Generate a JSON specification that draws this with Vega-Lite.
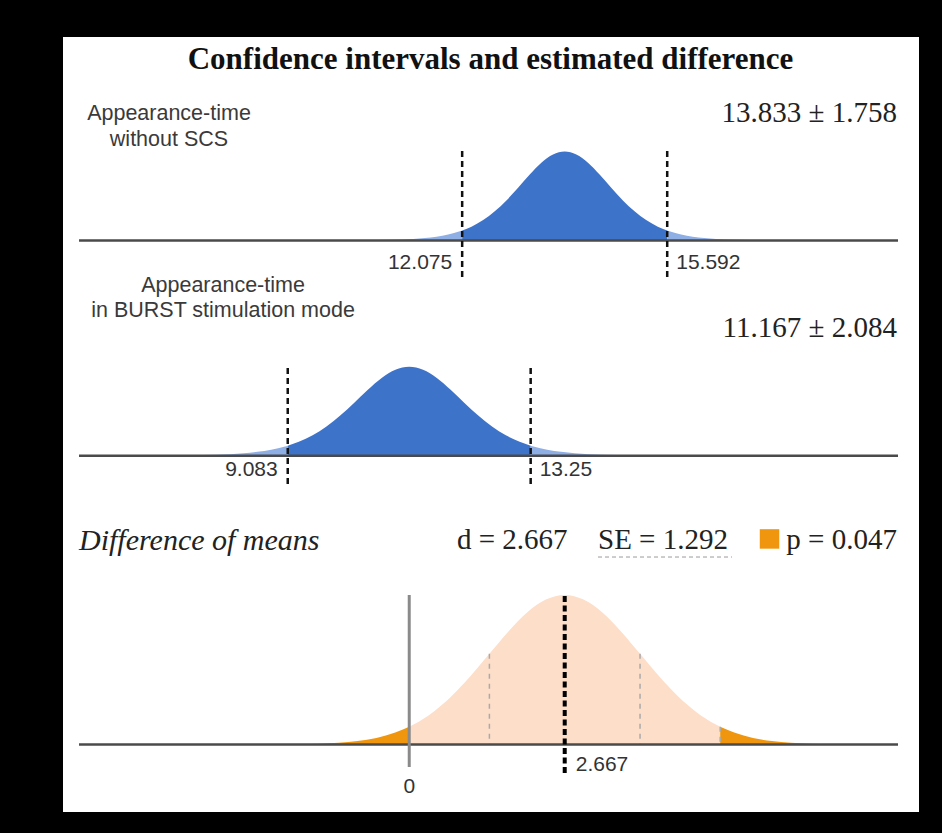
{
  "$schema": "https://vega.github.io/schema/vega-lite/v6.json",
  "background": "#000000",
  "padding": {"left": 63, "top": 37, "right": 23, "bottom": 21},
  "spacing": 0,
  "bounds": "flush",
  "config": {
    "view": {"fill": "#ffffff", "stroke": null},
    "axis": {"disable": true},
    "text": {"font": "Liberation Sans"}
  },
  "datasets": {
    "g1": [
      {"x": 10.237, "f": 0.0019}, {"x": 10.637, "f": 0.0046}, {"x": 11.036, "f": 0.0112}, {"x": 11.436, "f": 0.0277},
      {"x": 11.636, "f": 0.0433}, {"x": 11.835, "f": 0.0672}, {"x": 12.035, "f": 0.1032}, {"x": 12.075, "f": 0.112},
      {"x": 12.235, "f": 0.1555}, {"x": 12.435, "f": 0.2291}, {"x": 12.634, "f": 0.3274}, {"x": 12.834, "f": 0.4507},
      {"x": 13.034, "f": 0.5933}, {"x": 13.234, "f": 0.7414}, {"x": 13.433, "f": 0.8739}, {"x": 13.633, "f": 0.9666},
      {"x": 13.833, "f": 1}, {"x": 14.033, "f": 0.9666}, {"x": 14.233, "f": 0.8739}, {"x": 14.432, "f": 0.7414},
      {"x": 14.632, "f": 0.5933}, {"x": 14.832, "f": 0.4507}, {"x": 15.032, "f": 0.3274}, {"x": 15.231, "f": 0.2291},
      {"x": 15.431, "f": 0.1555}, {"x": 15.592, "f": 0.112}, {"x": 15.631, "f": 0.1032}, {"x": 15.831, "f": 0.0672},
      {"x": 16.03, "f": 0.0433}, {"x": 16.23, "f": 0.0277}, {"x": 16.63, "f": 0.0112}, {"x": 17.029, "f": 0.0046},
      {"x": 17.429, "f": 0.0019}
    ],
    "g2": [
      {"x": 6.906, "f": 0.0019}, {"x": 7.38, "f": 0.0046}, {"x": 7.853, "f": 0.0112}, {"x": 8.327, "f": 0.0277},
      {"x": 8.563, "f": 0.0433}, {"x": 8.8, "f": 0.0672}, {"x": 9.037, "f": 0.1032}, {"x": 9.083, "f": 0.112},
      {"x": 9.273, "f": 0.1555}, {"x": 9.51, "f": 0.2291}, {"x": 9.747, "f": 0.3274}, {"x": 9.983, "f": 0.4507},
      {"x": 10.22, "f": 0.5933}, {"x": 10.457, "f": 0.7414}, {"x": 10.694, "f": 0.8739}, {"x": 10.93, "f": 0.9666},
      {"x": 11.167, "f": 1}, {"x": 11.404, "f": 0.9666}, {"x": 11.64, "f": 0.8739}, {"x": 11.877, "f": 0.7414},
      {"x": 12.114, "f": 0.5933}, {"x": 12.351, "f": 0.4507}, {"x": 12.587, "f": 0.3274}, {"x": 12.824, "f": 0.2291},
      {"x": 13.061, "f": 0.1555}, {"x": 13.25, "f": 0.112}, {"x": 13.297, "f": 0.1032}, {"x": 13.534, "f": 0.0672},
      {"x": 13.771, "f": 0.0433}, {"x": 14.007, "f": 0.0277}, {"x": 14.481, "f": 0.0112}, {"x": 14.954, "f": 0.0046},
      {"x": 15.428, "f": 0.0019}
    ],
    "diff": [
      {"x": -2.501, "f": 0.0003}, {"x": -1.855, "f": 0.0022}, {"x": -1.209, "f": 0.0111}, {"x": -0.886, "f": 0.0228},
      {"x": -0.563, "f": 0.0439}, {"x": -0.24, "f": 0.0796}, {"x": 0, "f": 0.1188}, {"x": 0.083, "f": 0.1353},
      {"x": 0.406, "f": 0.2163}, {"x": 0.729, "f": 0.3247}, {"x": 1.052, "f": 0.4578}, {"x": 1.375, "f": 0.6065},
      {"x": 1.698, "f": 0.7548}, {"x": 2.021, "f": 0.8825}, {"x": 2.344, "f": 0.9692}, {"x": 2.667, "f": 1},
      {"x": 2.99, "f": 0.9692}, {"x": 3.313, "f": 0.8825}, {"x": 3.636, "f": 0.7548}, {"x": 3.959, "f": 0.6065},
      {"x": 4.282, "f": 0.4578}, {"x": 4.605, "f": 0.3247}, {"x": 4.928, "f": 0.2163}, {"x": 5.251, "f": 0.1353},
      {"x": 5.334, "f": 0.1188}, {"x": 5.574, "f": 0.0796}, {"x": 5.897, "f": 0.0439}, {"x": 6.22, "f": 0.0228},
      {"x": 6.543, "f": 0.0111}, {"x": 7.189, "f": 0.0022}, {"x": 7.835, "f": 0.0003}
    ],
    "ci1": [{"x": 12.075, "side": "lo"}, {"x": 15.592, "side": "hi"}],
    "ci2": [{"x": 9.083, "side": "lo"}, {"x": 13.25, "side": "hi"}],
    "se": [{"x": 0, "f": 0.1188}, {"x": 1.375, "f": 0.6065}, {"x": 3.959, "f": 0.6065}, {"x": 5.334, "f": 0.1188}],
    "dm": [{"d": 2.667}]
  },
  "vconcat": [
    {
      "width": 856,
      "height": 242,
      "data": {"values": [{}]},
      "layer": [
        {
          "data": {"name": "g1"},
          "transform": [{"filter": "datum.x <= 12.075"}],
          "mark": {"type": "area", "interpolate": "monotone", "color": "#8EAEE6"},
          "encoding": {
            "x": {"field": "x", "type": "quantitative", "scale": {"domain": [5.228, 19.911], "nice": false, "zero": false}},
            "y": {"field": "f", "type": "quantitative", "scale": {"domain": [-0.4326, 2.2865], "nice": false, "zero": false}},
            "y2": {"datum": 0}
          }
        },
        {
          "data": {"name": "g1"},
          "transform": [{"filter": "datum.x >= 12.075 && datum.x <= 15.592"}],
          "mark": {"type": "area", "interpolate": "monotone", "color": "#3E73CA"},
          "encoding": {
            "x": {"field": "x", "type": "quantitative"},
            "y": {"field": "f", "type": "quantitative"},
            "y2": {"datum": 0}
          }
        },
        {
          "data": {"name": "g1"},
          "transform": [{"filter": "datum.x >= 15.592"}],
          "mark": {"type": "area", "interpolate": "monotone", "color": "#8EAEE6"},
          "encoding": {
            "x": {"field": "x", "type": "quantitative"},
            "y": {"field": "f", "type": "quantitative"},
            "y2": {"datum": 0}
          }
        },
        {
          "mark": {"type": "rule", "color": "#4a4a4a", "strokeWidth": 2.5},
          "encoding": {"x": {"datum": 5.503, "type": "quantitative"}, "x2": {"datum": 19.551}, "y": {"datum": 0, "type": "quantitative"}}
        },
        {
          "data": {"name": "ci1"},
          "mark": {"type": "rule", "color": "#111111", "strokeWidth": 2.5, "strokeDash": [6, 4]},
          "encoding": {"x": {"field": "x", "type": "quantitative"}, "y": {"datum": -0.41, "type": "quantitative"}, "y2": {"datum": 1.017}}
        },
        {
          "data": {"name": "ci1"},
          "transform": [{"filter": "datum.side == 'lo'"}],
          "mark": {"type": "text", "align": "right", "baseline": "middle", "dx": -10, "fontSize": 21, "color": "#333333"},
          "encoding": {"x": {"field": "x", "type": "quantitative"}, "y": {"datum": -0.2528, "type": "quantitative"}, "text": {"field": "x", "type": "nominal"}}
        },
        {
          "data": {"name": "ci1"},
          "transform": [{"filter": "datum.side == 'hi'"}],
          "mark": {"type": "text", "align": "left", "baseline": "middle", "dx": 9, "fontSize": 21, "color": "#333333"},
          "encoding": {"x": {"field": "x", "type": "quantitative"}, "y": {"datum": -0.2528, "type": "quantitative"}, "text": {"field": "x", "type": "nominal"}}
        },
        {
          "mark": {"type": "text", "text": "Confidence intervals and estimated difference", "font": "Liberation Serif", "fontWeight": "bold", "fontSize": 31, "align": "center", "baseline": "middle", "color": "#111111"},
          "encoding": {"x": {"datum": 12.561, "type": "quantitative"}, "y": {"datum": 2.028, "type": "quantitative"}}
        },
        {
          "mark": {"type": "text", "text": ["Appearance-time", "without SCS"], "lineHeight": 26, "fontSize": 21.5, "align": "center", "baseline": "middle", "color": "#3a3a3a"},
          "encoding": {"x": {"datum": 7.046, "type": "quantitative"}, "y": {"datum": 1.421, "type": "quantitative"}}
        },
        {
          "mark": {"type": "text", "text": "13.833 ± 1.758", "font": "Liberation Serif", "fontSize": 29, "align": "right", "baseline": "middle", "color": "#222222"},
          "encoding": {"x": {"datum": 19.533, "type": "quantitative"}, "y": {"datum": 1.433, "type": "quantitative"}}
        }
      ]
    },
    {
      "width": 856,
      "height": 226,
      "data": {"values": [{}]},
      "layer": [
        {
          "data": {"name": "g2"},
          "transform": [{"filter": "datum.x <= 9.083"}],
          "mark": {"type": "area", "interpolate": "monotone", "color": "#8EAEE6"},
          "encoding": {
            "x": {"field": "x", "type": "quantitative", "scale": {"domain": [5.228, 19.911], "nice": false, "zero": false}},
            "y": {"field": "f", "type": "quantitative", "scale": {"domain": [-0.554, 1.9854], "nice": false, "zero": false}},
            "y2": {"datum": 0}
          }
        },
        {
          "data": {"name": "g2"},
          "transform": [{"filter": "datum.x >= 9.083 && datum.x <= 13.25"}],
          "mark": {"type": "area", "interpolate": "monotone", "color": "#3E73CA"},
          "encoding": {
            "x": {"field": "x", "type": "quantitative"},
            "y": {"field": "f", "type": "quantitative"},
            "y2": {"datum": 0}
          }
        },
        {
          "data": {"name": "g2"},
          "transform": [{"filter": "datum.x >= 13.25"}],
          "mark": {"type": "area", "interpolate": "monotone", "color": "#8EAEE6"},
          "encoding": {
            "x": {"field": "x", "type": "quantitative"},
            "y": {"field": "f", "type": "quantitative"},
            "y2": {"datum": 0}
          }
        },
        {
          "mark": {"type": "rule", "color": "#4a4a4a", "strokeWidth": 2.5},
          "encoding": {"x": {"datum": 5.503, "type": "quantitative"}, "x2": {"datum": 19.551}, "y": {"datum": 0, "type": "quantitative"}}
        },
        {
          "data": {"name": "ci2"},
          "mark": {"type": "rule", "color": "#111111", "strokeWidth": 2.5, "strokeDash": [6, 4]},
          "encoding": {"x": {"field": "x", "type": "quantitative"}, "y": {"datum": -0.318, "type": "quantitative"}, "y2": {"datum": 1.03}}
        },
        {
          "data": {"name": "ci2"},
          "transform": [{"filter": "datum.side == 'lo'"}],
          "mark": {"type": "text", "align": "right", "baseline": "middle", "dx": -10, "fontSize": 21, "color": "#333333"},
          "encoding": {"x": {"field": "x", "type": "quantitative"}, "y": {"datum": -0.1607, "type": "quantitative"}, "text": {"field": "x", "type": "nominal"}}
        },
        {
          "data": {"name": "ci2"},
          "transform": [{"filter": "datum.side == 'hi'"}],
          "mark": {"type": "text", "align": "left", "baseline": "middle", "dx": 9, "fontSize": 21, "color": "#333333"},
          "encoding": {"x": {"field": "x", "type": "quantitative"}, "y": {"datum": -0.1607, "type": "quantitative"}, "text": {"field": "x", "type": "nominal"}}
        },
        {
          "mark": {"type": "text", "text": ["Appearance-time", "in BURST stimulation mode"], "lineHeight": 25, "fontSize": 21.5, "align": "center", "baseline": "middle", "color": "#3a3a3a"},
          "encoding": {"x": {"datum": 7.973, "type": "quantitative"}, "y": {"datum": 1.907, "type": "quantitative"}}
        },
        {
          "mark": {"type": "text", "text": "11.167 ± 2.084", "font": "Liberation Serif", "fontSize": 29, "align": "right", "baseline": "middle", "color": "#222222"},
          "encoding": {"x": {"datum": 19.533, "type": "quantitative"}, "y": {"datum": 1.435, "type": "quantitative"}}
        }
      ]
    },
    {
      "width": 856,
      "height": 307,
      "data": {"values": [{}]},
      "layer": [
        {
          "data": {"name": "diff"},
          "transform": [{"filter": "datum.x <= 0"}],
          "mark": {"type": "area", "interpolate": "monotone", "color": "#EF960E"},
          "encoding": {
            "x": {"field": "x", "type": "quantitative", "scale": {"domain": [-5.939, 8.744], "nice": false, "zero": false}},
            "y": {"field": "f", "type": "quantitative", "scale": {"domain": [-0.4515, 1.602], "nice": false, "zero": false}},
            "y2": {"datum": 0}
          }
        },
        {
          "data": {"name": "diff"},
          "transform": [{"filter": "datum.x >= 0 && datum.x <= 5.334"}],
          "mark": {"type": "area", "interpolate": "monotone", "color": "#FDDEC9"},
          "encoding": {
            "x": {"field": "x", "type": "quantitative"},
            "y": {"field": "f", "type": "quantitative"},
            "y2": {"datum": 0}
          }
        },
        {
          "data": {"name": "diff"},
          "transform": [{"filter": "datum.x >= 5.334"}],
          "mark": {"type": "area", "interpolate": "monotone", "color": "#EF960E"},
          "encoding": {
            "x": {"field": "x", "type": "quantitative"},
            "y": {"field": "f", "type": "quantitative"},
            "y2": {"datum": 0}
          }
        },
        {
          "data": {"name": "se"},
          "mark": {"type": "rule", "color": "#aaaaaa", "strokeWidth": 1.5, "strokeDash": [5, 5]},
          "encoding": {"x": {"field": "x", "type": "quantitative"}, "y": {"field": "f", "type": "quantitative"}, "y2": {"datum": 0}}
        },
        {
          "mark": {"type": "rule", "color": "#4a4a4a", "strokeWidth": 2.5},
          "encoding": {"x": {"datum": -5.664, "type": "quantitative"}, "x2": {"datum": 8.384}, "y": {"datum": 0, "type": "quantitative"}}
        },
        {
          "mark": {"type": "rule", "color": "#8a8a8a", "strokeWidth": 3},
          "encoding": {"x": {"datum": 0, "type": "quantitative"}, "y": {"datum": -0.1505, "type": "quantitative"}, "y2": {"datum": 1.0}}
        },
        {
          "data": {"name": "dm"},
          "mark": {"type": "rule", "color": "#000000", "strokeWidth": 4, "strokeDash": [6, 3.5]},
          "encoding": {"x": {"field": "d", "type": "quantitative"}, "y": {"datum": -0.191, "type": "quantitative"}, "y2": {"datum": 1.013}}
        },
        {
          "data": {"name": "dm"},
          "mark": {"type": "text", "align": "left", "baseline": "middle", "dx": 11, "fontSize": 21, "color": "#333333"},
          "encoding": {"x": {"field": "d", "type": "quantitative"}, "y": {"datum": -0.137, "type": "quantitative"}, "text": {"field": "d", "type": "nominal"}}
        },
        {
          "mark": {"type": "text", "text": "0", "align": "center", "baseline": "middle", "fontSize": 21, "color": "#333333"},
          "encoding": {"x": {"datum": 0, "type": "quantitative"}, "y": {"datum": -0.284, "type": "quantitative"}}
        },
        {
          "mark": {"type": "text", "text": "Difference of means", "font": "Liberation Serif", "fontStyle": "italic", "fontSize": 30, "align": "left", "baseline": "middle", "color": "#222222"},
          "encoding": {"x": {"datum": -5.664, "type": "quantitative"}, "y": {"datum": 1.361, "type": "quantitative"}}
        },
        {
          "mark": {"type": "text", "text": "d = 2.667", "font": "Liberation Serif", "fontSize": 29, "align": "left", "baseline": "middle", "color": "#222222"},
          "encoding": {"x": {"datum": 0.819, "type": "quantitative"}, "y": {"datum": 1.37, "type": "quantitative"}}
        },
        {
          "mark": {"type": "text", "text": "SE = 1.292", "font": "Liberation Serif", "fontSize": 29, "align": "left", "baseline": "middle", "color": "#222222"},
          "encoding": {"x": {"datum": 3.238, "type": "quantitative"}, "y": {"datum": 1.37, "type": "quantitative"}}
        },
        {
          "mark": {"type": "rule", "color": "#9a9a9a", "strokeWidth": 1, "strokeDash": [4, 3]},
          "encoding": {"x": {"datum": 3.238, "type": "quantitative"}, "x2": {"datum": 5.536}, "y": {"datum": 1.254, "type": "quantitative"}}
        },
        {
          "mark": {"type": "square", "filled": true, "color": "#EF960E", "size": 380, "opacity": 1},
          "encoding": {"x": {"datum": 6.18, "type": "quantitative"}, "y": {"datum": 1.375, "type": "quantitative"}}
        },
        {
          "mark": {"type": "text", "text": "p = 0.047", "font": "Liberation Serif", "fontSize": 29, "align": "right", "baseline": "middle", "color": "#222222"},
          "encoding": {"x": {"datum": 8.366, "type": "quantitative"}, "y": {"datum": 1.37, "type": "quantitative"}}
        }
      ]
    }
  ],
  "resolve": {"scale": {"x": "independent", "y": "independent"}}
}
